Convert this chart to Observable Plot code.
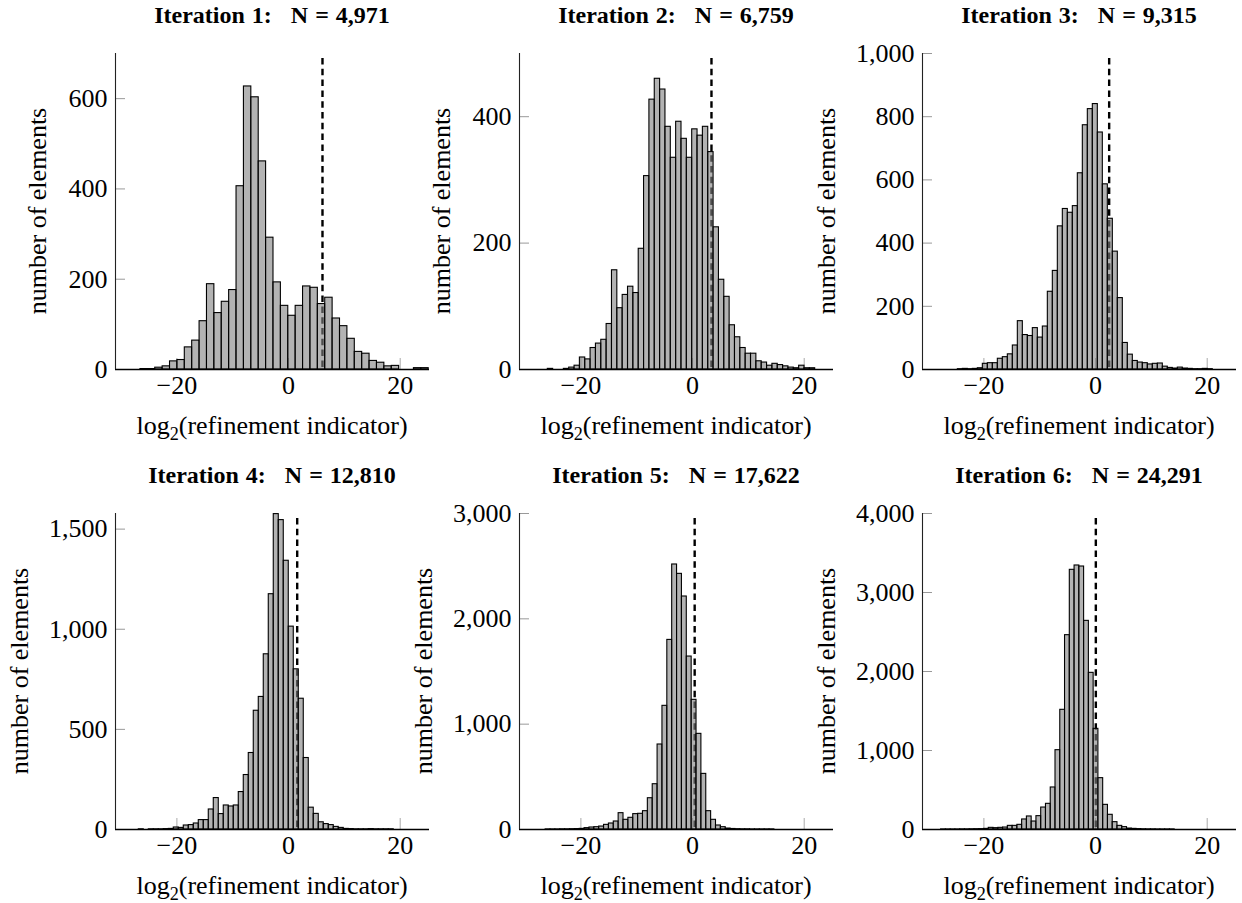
<!DOCTYPE html>
<html><head><meta charset="utf-8">
<script src="https://cdn.jsdelivr.net/npm/d3@7"></script>
<script src="https://cdn.jsdelivr.net/npm/@observablehq/plot@0.6"></script>
<style>
body{margin:0;background:#fff;}
#fig{position:relative;width:1242px;height:903px;overflow:hidden;background:#fff;font-family:"Liberation Serif","Times New Roman",serif;color:#000;}
.title{position:absolute;font-weight:bold;font-size:24px;line-height:24px;white-space:pre;transform:translateX(-50%);word-spacing:1px;}
.xlab{position:absolute;font-size:26px;line-height:26px;white-space:nowrap;transform:translateX(-50%);}
.xlab .sub{font-size:0.7em;position:relative;top:0.3em;}
.ylab{position:absolute;font-size:26px;line-height:26px;white-space:nowrap;width:400px;height:26px;text-align:center;transform:rotate(-90deg);}
.panel{position:absolute;}
</style></head><body><div id="fig"></div>
<script>
// ---- data ----
const iterations = [1, 2, 3, 4, 5, 6];
const elementCounts = ["4,971", "6,759", "9,315", "12,810", "17,622", "24,291"];
const binStart = [-26.53, -25.93, -24.67, -26.83, -26.32, -27.67];
const binWidth = [1.324, 0.958, 0.8956, 0.8956, 0.872, 0.854];
const counts1 = [1, 1, 4, 7, 18, 21, 49, 64, 107, 189, 125, 150, 176, 406, 627, 603, 461, 292, 193, 141, 119, 141, 184, 181, 145, 159, 113, 96, 68, 39, 35, 19, 15, 7, 8, 0, 0, 3, 3];
const counts2 = [1, 0, 0, 1, 3, 6, 19, 16, 34, 41, 47, 72, 157, 97, 118, 131, 121, 191, 306, 427, 460, 443, 384, 335, 392, 365, 335, 380, 370, 384, 344, 225, 142, 115, 70, 51, 34, 25, 25, 13, 11, 6, 9, 7, 5, 3, 2, 6, 2, 2];
const counts3 = [1, 2, 1, 2, 4, 18, 20, 20, 34, 39, 48, 76, 153, 109, 106, 131, 101, 136, 246, 312, 453, 508, 496, 517, 621, 773, 824, 840, 750, 586, 477, 373, 226, 84, 47, 27, 22, 20, 16, 18, 19, 9, 5, 3, 6, 3, 2, 1, 1, 2, 1];
const counts4 = [1, 0, 1, 1, 1, 2, 3, 10, 8, 20, 22, 30, 47, 47, 100, 157, 77, 120, 115, 120, 187, 272, 382, 593, 662, 875, 1175, 1575, 1545, 1342, 1013, 800, 653, 357, 109, 78, 36, 27, 22, 13, 8, 3, 2, 1, 1, 1, 2, 1, 1, 1, 1];
const counts5 = [1, 1, 1, 2, 2, 3, 4, 6, 13, 19, 22, 28, 44, 57, 76, 155, 92, 111, 146, 149, 174, 297, 430, 807, 1174, 1800, 2516, 2427, 2212, 1642, 1231, 908, 528, 174, 92, 38, 22, 9, 5, 3, 2, 2, 1, 1, 1, 1, 1];
const counts6 = [1, 1, 1, 1, 2, 2, 3, 4, 5, 8, 21, 17, 21, 25, 46, 46, 59, 127, 165, 101, 169, 278, 325, 532, 1004, 1515, 2460, 3287, 3342, 3329, 2641, 1983, 1274, 650, 312, 186, 93, 46, 30, 12, 8, 5, 3, 2, 2, 1, 1, 1, 1];
const thresholds = [6.08, 3.39, 2.44, 1.55, 0.38, 0.05];
const yMax = [700, 500, 1000, 1578, 3000, 4000];
const yTicks = [[0, 200, 400, 600], [0, 200, 400], [0, 200, 400, 600, 800, 1000], [0, 500, 1000, 1500], [0, 1000, 2000, 3000], [0, 1000, 2000, 3000, 4000]];
const xTicks = [-20, 0, 20];
const xDomain = [-31, 25.25];
const xLabelText = "refinement indicator";
const yLabelText = "number of elements";
const allCounts = [counts1, counts2, counts3, counts4, counts5, counts6];

// ---- layout ----
const frameLefts = [115, 519, 922];
const frameTops = [53, 513];
const frameW = 314, frameH = 316;
const mL = 110, mR = 4, mT = 10, mB = 50;
const yLabOffset = [68, 68, 86.5, 86.5, 86.5, 86.5];
const fig = document.getElementById("fig");

function makePanel(i) {
  const bins = allCounts[i].map((c, j) => ({
    x1: binStart[i] + j * binWidth[i],
    x2: binStart[i] + (j + 1) * binWidth[i],
    count: c
  }));
  return Plot.plot({
    width: mL + frameW + mR,
    height: mT + frameH + mB,
    marginLeft: mL, marginRight: mR, marginTop: mT, marginBottom: mB,
    style: {fontFamily: '"Liberation Serif", serif', fontSize: "26px", background: "transparent", color: "#000", overflow: "visible"},
    x: {domain: xDomain, label: null},
    y: {domain: [0, yMax[i]], label: null},
    marks: [
      Plot.axisX({ticks: xTicks, tickSize: 11, dy: -11, tickFormat: () => "", label: null, stroke: "#aaa"}),
      Plot.axisY({ticks: yTicks[i], tickSize: 10, dx: 10, tickFormat: () => "", label: null, stroke: "#999"}),
      Plot.ruleX([thresholds[i]], {stroke: "#000", strokeWidth: 2.4, strokeDasharray: "6.5,4.3", insetTop: 5}),
      Plot.rectY(bins, {x1: "x1", x2: "x2", y: "count", fill: "#808080", fillOpacity: 0.6, stroke: "#000", strokeWidth: 1.1}),
      Plot.ruleY([0], {stroke: "#000", strokeWidth: 1.3}),
      Plot.ruleX([xDomain[0]], {stroke: "#222", strokeWidth: 1.1}),
      Plot.axisX({ticks: xTicks, tickSize: 0, tickPadding: 6, label: null}),
      Plot.axisY({ticks: yTicks[i], tickSize: 0, tickPadding: 8, label: null, tickFormat: d3.format(",")})
    ]
  });
}

for (let i = 0; i < 6; i++) {
  const r = Math.floor(i / 3), c = i % 3;
  const fl = frameLefts[c], ft = frameTops[r];
  const wrap = document.createElement("div");
  wrap.className = "panel";
  wrap.style.left = (fl - mL) + "px";
  wrap.style.top = (ft - mT) + "px";
  wrap.appendChild(makePanel(i));
  fig.appendChild(wrap);

  const cx = fl + frameW / 2;
  // title
  const t = document.createElement("div");
  t.className = "title";
  t.innerHTML = `Iteration ${iterations[i]}:<span style="margin-left:19px">N = ${elementCounts[i]}</span>`;
  t.style.left = cx + "px";
  t.style.top = (ft - 50 + 0.3) + "px";
  fig.appendChild(t);
  // x label
  const xl = document.createElement("div");
  xl.className = "xlab";
  xl.innerHTML = `log<span class="sub">2</span>(${xLabelText})`;
  xl.style.left = cx + "px";
  xl.style.top = (ft + frameH + 66 - 21.8) + "px";
  fig.appendChild(xl);
  // y label
  const yl = document.createElement("div");
  yl.className = "ylab";
  yl.textContent = yLabelText;
  const bx = fl - yLabOffset[i];
  const ycx = bx - 8.8;
  const ycy = ft + frameH / 2;
  yl.style.left = (ycx - 200) + "px";
  yl.style.top = (ycy - 13) + "px";
  fig.appendChild(yl);
}
</script></body></html>
